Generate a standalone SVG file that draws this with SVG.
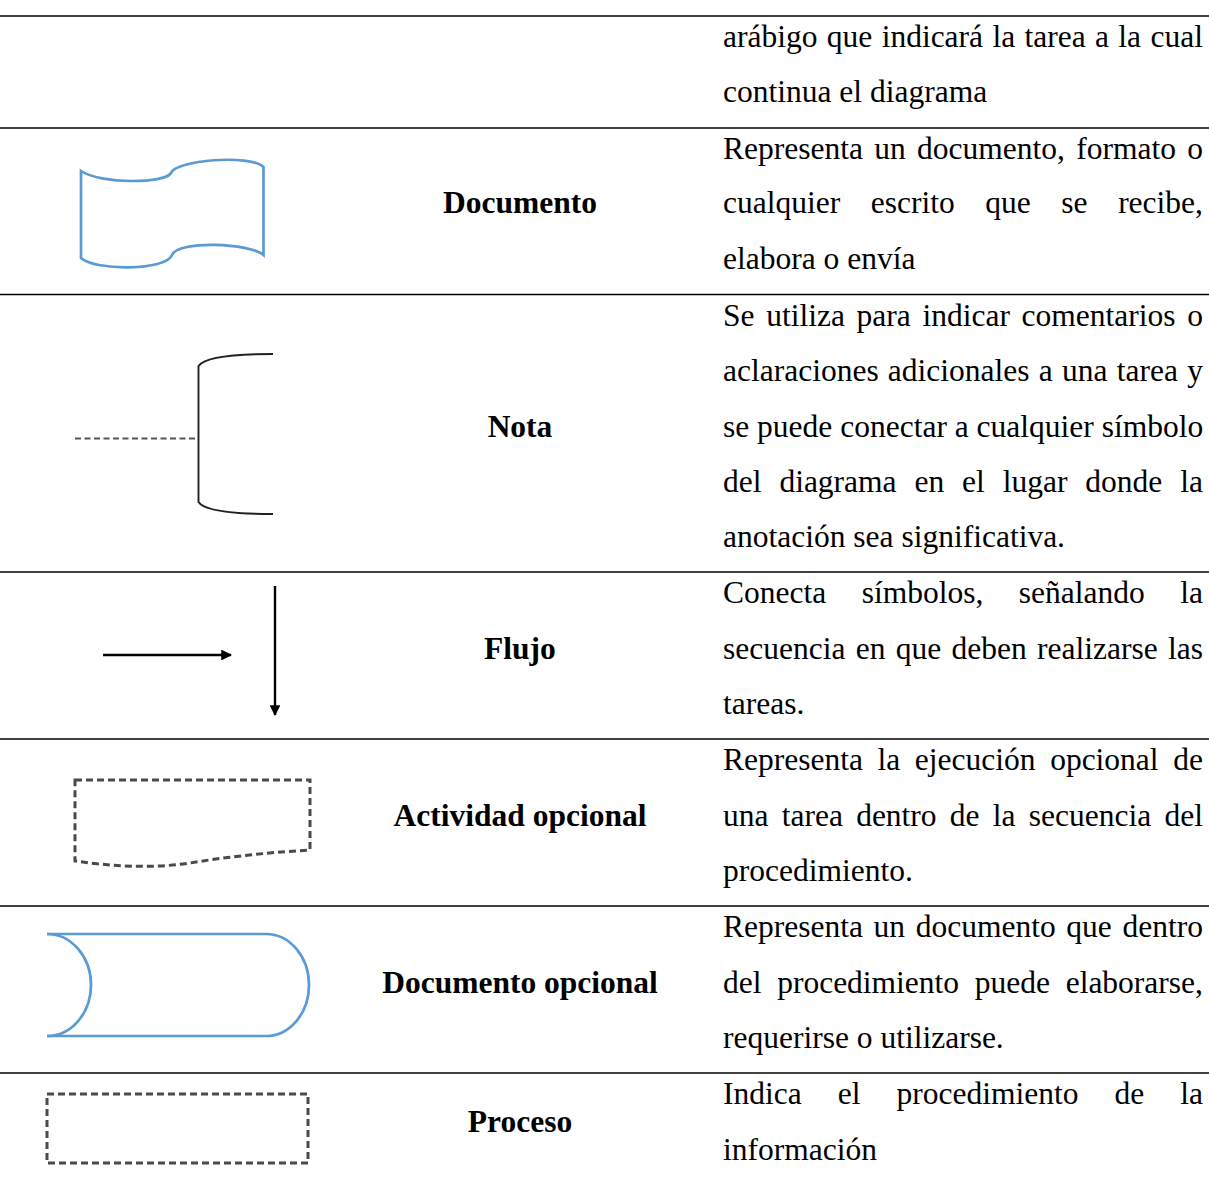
<svg xmlns="http://www.w3.org/2000/svg" width="1209" height="1178" viewBox="0 0 1209 1178">
<style>
  text { font-family: "Liberation Serif", "Times New Roman", serif; font-size: 31.5px; fill: #000; }
  .lbl { font-weight: bold; text-anchor: middle; }
  .rule { stroke: #000; stroke-width: 1.6; }
  .blue { fill: none; stroke: #5B9BD5; stroke-width: 2.7; }
  .dash { fill: none; stroke: #4a4a4a; stroke-width: 3; stroke-dasharray: 7 4; }
  .ink { fill: none; stroke: #222; stroke-width: 1.9; }
  .flow { stroke: #000; stroke-width: 2.4; }
</style>
<defs>
  <marker id="arr" viewBox="0 0 10 10" refX="9" refY="5" markerWidth="5" markerHeight="4.5" orient="auto" markerUnits="strokeWidth">
    <path d="M0,0 L10,5 L0,10 Z" fill="#000"/>
  </marker>
</defs>
<rect width="1209" height="1178" fill="#fff"/>

<g id="rules">
  <line class="rule" x1="0" y1="16" x2="1209" y2="16"/>
  <line class="rule" x1="0" y1="128" x2="1209" y2="128"/>
  <line class="rule" x1="0" y1="294.5" x2="1209" y2="294.5"/>
  <line class="rule" x1="0" y1="572" x2="1209" y2="572"/>
  <line class="rule" x1="0" y1="739" x2="1209" y2="739"/>
  <line class="rule" x1="0" y1="906" x2="1209" y2="906"/>
  <line class="rule" x1="0" y1="1073" x2="1209" y2="1073"/>
</g>

<g id="row-continuacion">
  <text x="723" y="46.5" word-spacing="1.47">arábigo que indicará la tarea a la cual</text>
  <text x="723" y="102">continua el diagrama</text>
</g>

<g id="row-documento">
  <path class="blue" d="M81,171 C100,184 165,184 171,173 C176,160 250,154 263.5,167 V255 C250,243 178,240 172,255 C166,271 95,271 81,258 Z"/>
  <text class="lbl" x="520" y="213">Documento</text>
  <text x="723" y="158.5" word-spacing="3.43">Representa un documento, formato o</text>
  <text x="723" y="213" word-spacing="22.69">cualquier escrito que se recibe,</text>
  <text x="723" y="268.5">elabora o envía</text>
</g>

<g id="row-nota">
  <line x1="75" y1="438.5" x2="198" y2="438.5" stroke="#555" stroke-width="2" stroke-dasharray="6 3.5"/>
  <path class="ink" d="M273,354 C240,354 205,356 198.5,366 V502 C205,512 240,514 273,514"/>
  <text class="lbl" x="520" y="436.5">Nota</text>
  <text x="723" y="325.5" word-spacing="3.79">Se utiliza para indicar comentarios o</text>
  <text x="723" y="381" word-spacing="1.36">aclaraciones adicionales a una tarea y</text>
  <text x="723" y="436.5">se puede conectar a cualquier símbolo</text>
  <text x="723" y="492" word-spacing="10.02">del diagrama en el lugar donde la</text>
  <text x="723" y="547">anotación sea significativa.</text>
</g>

<g id="row-flujo">
  <g id="flujo-arrows">
    <line class="flow" x1="103" y1="655" x2="231" y2="655" marker-end="url(#arr)"/>
    <line class="flow" x1="275" y1="586" x2="275" y2="715" marker-end="url(#arr)"/>
  </g>
  <text class="lbl" x="520" y="658.5">Flujo</text>
  <text x="723" y="603" word-spacing="27.6">Conecta símbolos, señalando la</text>
  <text x="723" y="658.5" word-spacing="2.42">secuencia en que deben realizarse las</text>
  <text x="723" y="714">tareas.</text>
</g>

<g id="row-actividad-opcional">
  <path class="dash" d="M75,780 H310 V850 C260,853 220,858 190,863 C150,869 110,866 75,861 Z"/>
  <text class="lbl" x="520" y="825.5">Actividad opcional</text>
  <text x="723" y="770" word-spacing="6.72">Representa la ejecución opcional de</text>
  <text x="723" y="825.5" word-spacing="5.36">una tarea dentro de la secuencia del</text>
  <text x="723" y="881">procedimiento.</text>
</g>

<g id="row-documento-opcional">
  <path class="blue" d="M47,934 H266 A43,51 0 0 1 266,1036 H47"/>
  <path class="blue" d="M47,934 A44,51 0 0 1 47,1036"/>
  <text class="lbl" x="520" y="992.5">Documento opcional</text>
  <text x="723" y="937" word-spacing="2.78">Representa un documento que dentro</text>
  <text x="723" y="992.5" word-spacing="7.8">del procedimiento puede elaborarse,</text>
  <text x="723" y="1048">requerirse o utilizarse.</text>
</g>

<g id="row-proceso">
  <rect class="dash" x="47" y="1094" width="261" height="69"/>
  <text class="lbl" x="520" y="1131.5">Proceso</text>
  <text x="723" y="1104" word-spacing="28.15">Indica el procedimiento de la</text>
  <text x="723" y="1159.5">información</text>
</g>
</svg>
